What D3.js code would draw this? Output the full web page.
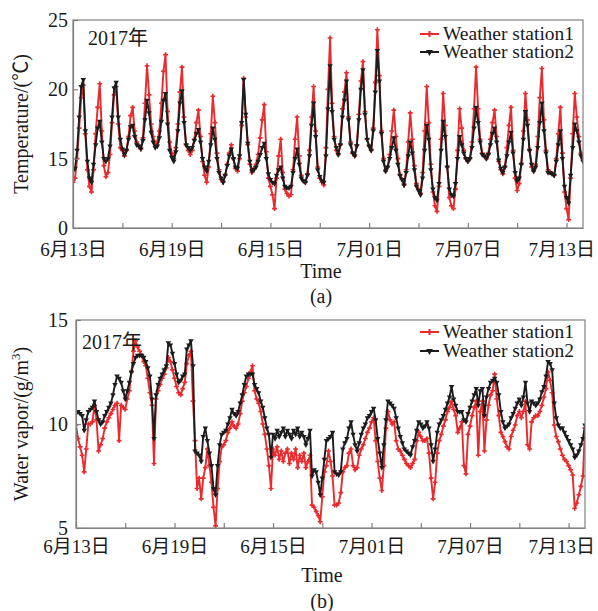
<!DOCTYPE html>
<html><head><meta charset="utf-8">
<script src="https://cdn.jsdelivr.net/npm/d3@7"></script>
<style>body{margin:0;background:#fff}</style>
</head><body>
<svg id="c" width="598" height="611"></svg>
<script>
// ---------- DATA (3-hourly readings from 2017-06-13 00:00) ----------
const startDate = [2017, 5, 13];
const stepHours = 3;
const seriesNames = ["Weather station1", "Weather station2"];
const yearLabel = "2017年";
const xTickLabels = ["6月13日", "6月19日", "6月15日", "7月01日", "7月07日", "7月13日"];
const xTickStepDays = 3;
const tempTickValues = [10, 15, 20, 25];
const tempTickLabels = ["0", "15", "20", "25"];
const vaporTickValues = [5, 10, 15];
const vaporTickLabels = ["5", "10", "15"];

const tempStation1 = [
13.3,13.6,15.0,17.2,19.4,20.3,16.8,14.2,
13.0,12.6,14.2,16.8,18.7,20.4,17.0,14.5,
13.7,14.0,15.3,17.6,19.6,20.2,17.5,15.8,
15.6,15.2,15.6,16.6,18.1,18.7,17.0,16.2,
15.9,15.7,16.5,19.0,21.7,19.6,17.5,16.6,
16.0,16.2,17.0,19.0,21.3,22.5,18.4,16.2,
15.4,15.0,15.8,17.5,19.8,21.6,18.0,16.0,
15.6,15.3,15.6,16.4,17.6,18.5,16.6,14.8,
13.8,13.3,14.4,16.8,19.5,17.6,15.4,14.2,
13.5,13.3,13.8,14.6,15.4,16.0,15.0,14.3,
14.1,15.0,17.4,20.8,18.0,16.0,14.6,14.0,
14.3,14.6,15.3,16.5,17.8,18.9,15.5,13.6,
13.0,12.4,11.4,13.6,15.2,16.4,14.0,12.8,
12.5,12.3,12.4,14.2,16.4,18.0,15.2,13.8,
13.4,13.3,13.9,15.6,18.0,20.2,17.0,14.4,
13.6,13.3,13.1,15.8,20.0,23.7,19.0,16.6,
15.6,15.3,16.0,18.6,19.8,21.2,18.0,16.2,
15.4,15.2,16.0,18.2,20.6,22.0,18.4,16.4,
15.9,15.6,17.2,20.5,24.3,21.0,17.0,15.0,
14.1,14.4,15.3,17.0,18.5,16.6,15.0,13.8,
13.5,13.1,14.2,16.2,18.3,16.4,14.5,13.2,
12.8,12.5,14.0,17.0,20.2,17.6,14.6,12.6,
11.6,11.2,13.0,16.4,19.7,17.4,14.4,12.2,
11.6,11.4,12.8,15.6,18.6,17.2,15.6,15.0,
14.8,15.0,16.2,18.6,21.6,18.6,16.4,15.4,
15.2,15.0,15.4,16.4,17.6,18.5,16.6,14.8,
14.2,13.9,14.4,15.8,17.4,18.7,15.6,13.6,
12.7,13.2,14.6,17.0,19.7,17.8,15.6,14.4,
14.1,14.6,16.6,19.4,21.5,17.8,15.6,14.2,
14.0,13.9,13.8,15.0,16.8,18.7,15.4,12.6,
11.4,10.6,13.6,16.8,19.7,18.0,16.6,15.4,
15.0];

const tempStation2 = [
14.1,14.3,15.6,18.0,20.2,20.7,17.0,14.8,
13.6,13.3,14.6,16.0,17.2,17.7,16.2,15.0,
14.8,15.0,15.9,18.0,20.1,20.5,18.0,16.4,
15.7,15.3,15.6,16.4,17.3,17.4,16.6,16.0,
15.9,15.7,16.3,17.8,19.2,18.3,16.9,16.2,
15.8,15.9,16.5,17.7,19.2,19.7,17.5,15.6,
15.1,14.8,15.5,17.0,19.0,19.9,17.6,16.0,
15.8,15.6,15.8,16.3,16.8,17.1,16.2,15.0,
14.4,14.1,14.8,16.0,17.2,16.4,15.0,14.0,
13.6,13.3,13.8,14.5,15.2,15.7,15.0,14.4,
14.3,15.2,17.6,20.7,18.2,16.1,14.8,14.1,
14.2,14.4,14.8,15.3,15.8,16.1,15.0,13.9,
13.5,13.3,13.2,13.8,14.2,14.4,13.6,13.0,
12.9,12.9,13.0,14.0,15.0,15.7,14.6,13.6,
13.4,13.3,13.8,15.2,17.4,19.0,16.6,14.2,
13.7,13.4,13.3,15.2,18.6,21.7,18.4,16.4,
15.8,15.3,16.0,18.0,19.2,20.6,17.8,16.0,
15.4,15.2,15.9,17.8,20.0,21.4,18.2,16.4,
15.9,15.6,17.0,19.8,22.8,20.6,16.8,14.8,
14.1,14.4,15.0,15.8,16.5,15.6,14.6,13.8,
13.5,13.1,14.0,15.2,16.2,15.4,14.2,13.0,
12.7,12.4,13.6,15.6,17.4,16.4,14.2,12.8,
12.2,12.0,13.2,15.6,17.7,16.6,14.4,12.8,
12.4,12.3,13.2,15.0,16.6,16.0,15.4,15.0,
14.8,15.0,15.8,17.2,18.7,17.6,16.2,15.3,
15.2,15.0,15.3,16.0,16.8,17.2,16.2,14.9,
14.3,14.0,14.4,15.2,16.2,16.9,15.4,14.0,
13.4,13.6,14.6,16.4,18.4,17.4,15.6,14.6,
14.1,14.4,15.8,17.6,19.0,17.0,15.4,14.0,
14.0,13.9,13.8,14.8,16.0,17.0,15.0,13.0,
12.2,11.8,13.8,15.8,17.5,17.0,16.2,15.2,
14.8];

const vaporStation1 = [
9.95,9.3,8.9,8.5,7.7,8.8,10.0,10.0,
10.1,10.9,10.2,8.7,9.0,9.3,9.8,10.1,
10.3,10.5,10.7,10.9,11.0,9.2,10.9,10.8,
10.7,11.2,11.6,12.5,13.5,14.0,13.7,13.5,
13.3,13.0,12.8,12.2,11.5,10.9,8.1,11.2,
11.6,11.9,12.2,12.4,12.7,13.2,13.0,12.6,
12.2,11.8,11.5,11.4,11.7,12.0,12.9,13.3,
13.5,11.1,9.2,6.9,7.4,6.4,7.4,7.9,
8.8,8.0,7.2,6.0,5.1,6.9,8.2,8.9,
9.0,9.2,9.6,9.8,10.1,9.9,9.8,10.0,
10.5,11.1,11.5,11.8,12.2,12.5,12.8,11.6,
11.2,11.0,10.6,10.0,9.5,8.8,8.0,6.9,
8.8,8.5,8.9,8.3,8.7,8.2,8.6,8.8,
8.1,8.6,8.3,8.8,7.9,8.5,8.2,8.6,
7.9,8.2,8.5,6.1,6.0,5.8,5.6,5.3,
6.5,7.7,8.0,8.7,8.2,7.5,6.1,6.1,
6.2,6.7,7.7,7.9,8.0,8.6,8.8,8.0,
7.8,7.9,8.5,8.8,9.0,9.3,9.6,9.8,
10.1,10.3,9.2,8.2,7.4,6.8,8.0,9.8,
10.6,10.2,10.0,10.1,9.2,8.8,8.7,8.5,
8.3,8.1,8.0,7.9,8.1,8.3,9.2,9.6,
9.4,9.2,9.2,9.3,8.6,7.4,6.4,7.2,
8.6,9.2,9.5,9.9,10.2,10.6,10.8,11.1,
10.7,10.4,9.6,9.8,10.1,8.0,7.6,9.5,
9.9,10.4,10.8,11.1,8.5,10.6,11.1,8.7,
10.2,10.9,11.4,11.6,12.4,11.2,10.4,9.6,
9.4,9.15,8.9,8.8,9.4,9.7,9.95,10.4,
10.6,10.3,10.6,11.1,9.0,8.8,10.1,10.3,
10.4,10.4,10.6,10.9,11.3,11.7,12.5,12.1,
11.5,9.95,9.4,9.15,8.8,8.5,8.3,8.2,
8.0,7.8,7.55,5.95,6.2,6.6,7.0,7.5,
9.8];

const vaporStation2 = [
10.5,10.6,10.5,10.4,9.7,10.2,10.6,10.7,
10.8,11.1,10.6,10.2,10.0,10.1,10.4,10.6,
10.8,11.0,11.4,11.9,12.3,12.2,12.0,11.6,
11.2,11.6,12.0,12.5,12.9,13.2,13.3,13.3,
13.3,13.2,13.0,12.7,12.3,11.2,9.3,11.4,
11.9,12.2,12.4,12.6,12.8,13.9,13.8,13.4,
12.9,12.4,12.0,12.1,12.3,12.4,13.6,13.8,
14.0,12.8,8.7,8.6,8.5,8.2,9.4,9.8,
9.2,8.6,8.0,6.9,6.6,8.0,9.0,9.5,
9.6,9.7,10.0,10.3,10.7,10.5,10.4,10.6,
11.0,11.4,11.9,12.3,12.4,12.4,12.4,11.9,
11.7,11.5,11.1,10.8,10.3,9.8,9.5,8.4,
9.5,9.3,9.7,9.4,9.6,9.8,9.4,9.7,
9.5,9.3,9.7,9.5,9.8,9.4,9.6,9.4,
9.0,9.3,9.7,7.5,7.8,7.7,7.2,6.6,
7.4,8.3,9.2,9.3,9.4,9.6,7.7,7.6,
7.55,7.7,8.8,9.1,9.3,9.8,10.1,9.5,
9.0,8.7,9.1,9.5,9.8,10.0,10.3,10.4,
10.6,10.75,10.2,9.3,8.6,7.9,9.0,10.2,
11.1,11.0,10.9,10.75,10.3,9.8,9.4,9.1,
8.8,8.7,8.6,8.5,8.9,9.2,9.7,10.1,
10.0,9.8,9.9,10.1,9.8,9.0,8.2,8.8,
9.6,10.0,10.2,10.4,10.7,11.0,11.3,11.8,
11.2,10.9,10.6,10.6,10.6,10.2,10.1,10.5,
10.8,11.1,11.4,11.7,10.9,11.6,11.7,10.4,
11.3,11.7,12.0,12.1,12.2,12.0,11.4,10.6,
10.1,9.8,9.9,10.0,10.3,10.5,10.75,11.0,
11.2,10.9,11.3,12.0,11.0,10.6,11.1,11.0,
10.9,11.0,11.2,11.55,11.8,12.3,13.0,12.9,
12.6,11.0,10.3,9.95,9.8,9.8,9.6,9.4,
9.2,9.0,8.8,8.4,8.5,8.7,9.0,9.3,
9.95];

// ---------- STYLE ----------
const FONT = '"Liberation Serif","Times New Roman","Noto Sans CJK SC",serif';
const colors = ["#ea2a2c", "#1c1c1c"];
const axisColor = "#808080";

const svg = d3.select("#c");
const START = new Date(startDate[0], startDate[1], startDate[2], 0, 0, 0);
const END = d3.timeDay.offset(START, 31);
const xTicks = d3.range(0, 31, xTickStepDays).map(k => d3.timeDay.offset(START, k));

function toPoints(arr) {
  return arr.map((v, i) => ({ t: d3.timeHour.offset(START, i * stepHours), v }));
}

function panel(o) {
  const g = svg.append("g");
  const x = d3.scaleTime().domain([START, END]).range([o.left, o.right]);
  const y = d3.scaleLinear().domain(o.yDomain).range([o.bottom, o.top]);

  const clipId = "clip" + o.id;
  svg.append("clipPath").attr("id", clipId).append("rect")
    .attr("x", o.left).attr("y", o.top - 2).attr("width", o.right - o.left).attr("height", o.bottom - o.top + 2);

  const dataG = g.append("g").attr("clip-path", `url(#${clipId})`);
  const line = d3.line().x(d => x(d.t)).y(d => y(d.v));
  const markers = [
    d3.symbol().type(d3.symbolCross).size(13),
    d3.symbol().type(d3.symbolTriangle).size(13)
  ];
  o.series.forEach((arr, si) => {
    const pts = toPoints(arr);
    dataG.append("path").datum(pts).attr("d", line)
      .attr("fill", "none").attr("stroke", colors[si]).attr("stroke-width", 1.9)
      .attr("stroke-linejoin", "round");
    dataG.append("g").selectAll("path").data(pts).join("path")
      .attr("d", markers[si])
      .attr("transform", d => `translate(${x(d.t)},${y(d.v)})` + (si === 1 ? " rotate(180)" : ""))
      .attr("fill", colors[si]);
  });

  // frame
  g.append("rect").attr("x", o.left).attr("y", o.top)
    .attr("width", o.right - o.left).attr("height", o.bottom - o.top)
    .attr("fill", "none").attr("stroke", axisColor).attr("stroke-width", 1.2);

  // x axis
  const xa = d3.axisBottom(x).tickValues(xTicks).tickSizeInner(-5).tickSizeOuter(0)
    .tickFormat((d, i) => i % 2 === 0 ? xTickLabels[i / 2] : "");
  const gx = g.append("g").attr("transform", `translate(0,${o.bottom})`).call(xa)
    .attr("font-family", FONT).attr("font-size", 19);
  gx.select(".domain").attr("stroke", axisColor).attr("stroke-width", 1.2);
  gx.selectAll(".tick line").attr("stroke", axisColor).attr("stroke-width", 1.2);
  gx.selectAll(".tick text").attr("y", o.xLabelOffset).attr("dy", null).attr("fill", "#1a1a1a");
  // keep the last label inside the picture, as in the reference
  gx.selectAll(".tick").each(function () {
    const t = d3.select(this);
    const m = /translate\(([-\d.]+)/.exec(t.attr("transform"));
    const tx = m ? +m[1] : 0;
    const txt = t.select("text");
    const node = txt.node();
    if (!node || !txt.text()) return;
    const w = node.getComputedTextLength();
    const right = tx + w / 2;
    if (right > 595) txt.attr("x", 595 - right);
  });

  // y axis
  const ya = d3.axisLeft(y).tickValues(o.yTicks).tickSizeInner(-5).tickSizeOuter(0)
    .tickFormat((d, i) => o.yLabels[i]);
  const gy = g.append("g").attr("transform", `translate(${o.left},0)`).call(ya)
    .attr("font-family", FONT).attr("font-size", 20);
  gy.select(".domain").attr("stroke", axisColor).attr("stroke-width", 1.2);
  gy.selectAll(".tick line").attr("stroke", axisColor).attr("stroke-width", 1.2);
  gy.selectAll(".tick text").attr("x", o.yLabelX).attr("fill", "#1a1a1a");

  // y title
  const yt = g.append("text").attr("transform", `translate(28,${(o.top + o.bottom) / 2}) rotate(-90)`)
    .attr("text-anchor", "middle").attr("font-family", FONT).attr("font-size", 20).attr("fill", "#1a1a1a");
  o.yTitle(yt);

  // x title + caption
  g.append("text").attr("x", o.timeX).attr("y", o.timeY).attr("text-anchor", "middle")
    .attr("font-family", FONT).attr("font-size", 20).attr("fill", "#1a1a1a").text("Time");
  g.append("text").attr("x", o.timeX).attr("y", o.capY).attr("text-anchor", "middle")
    .attr("font-family", FONT).attr("font-size", 20).attr("fill", "#1a1a1a").text(o.caption);

  // year
  g.append("text").attr("x", o.yearX).attr("y", o.yearY)
    .attr("font-family", FONT).attr("font-size", 20).attr("fill", "#1a1a1a").text(yearLabel);

  // legend
  seriesNames.forEach((name, si) => {
    const ly = o.legendY[si];
    g.append("line").attr("x1", 420).attr("x2", 439).attr("y1", ly - 6).attr("y2", ly - 6)
      .attr("stroke", colors[si]).attr("stroke-width", 2);
    g.append("path").attr("d", markers[si].size(20)())
      .attr("transform", `translate(429.5,${ly - 6})` + (si === 1 ? " rotate(180)" : ""))
      .attr("fill", colors[si]);
    g.append("text").attr("x", 443).attr("y", ly)
      .attr("font-family", FONT).attr("font-size", 19.5).attr("fill", "#1a1a1a").text(name);
  });
}

panel({
  id: "a", left: 73, right: 583, top: 20, bottom: 228,
  yDomain: [10, 25], yTicks: tempTickValues, yLabels: tempTickLabels,
  series: [tempStation1, tempStation2],
  xLabelOffset: 28, yLabelX: -5,
  yTitle: t => t.text("Temperature/(℃)"),
  timeX: 321, timeY: 278, capY: 303, caption: "(a)",
  yearX: 88, yearY: 45, legendY: [40, 58]
});

panel({
  id: "b", left: 76, right: 585, top: 320, bottom: 528,
  yDomain: [5, 15], yTicks: vaporTickValues, yLabels: vaporTickLabels,
  series: [vaporStation1, vaporStation2],
  xLabelOffset: 25, yLabelX: -8,
  yTitle: t => { t.append("tspan").text("Water vapor/(g/m"); t.append("tspan").attr("font-size", 13).attr("dy", -8).text("3"); t.append("tspan").attr("dy", 8).text(")"); },
  timeX: 322, timeY: 582, capY: 608, caption: "(b)",
  yearX: 82, yearY: 349, legendY: [338, 357]
});
</script>
</body></html>
